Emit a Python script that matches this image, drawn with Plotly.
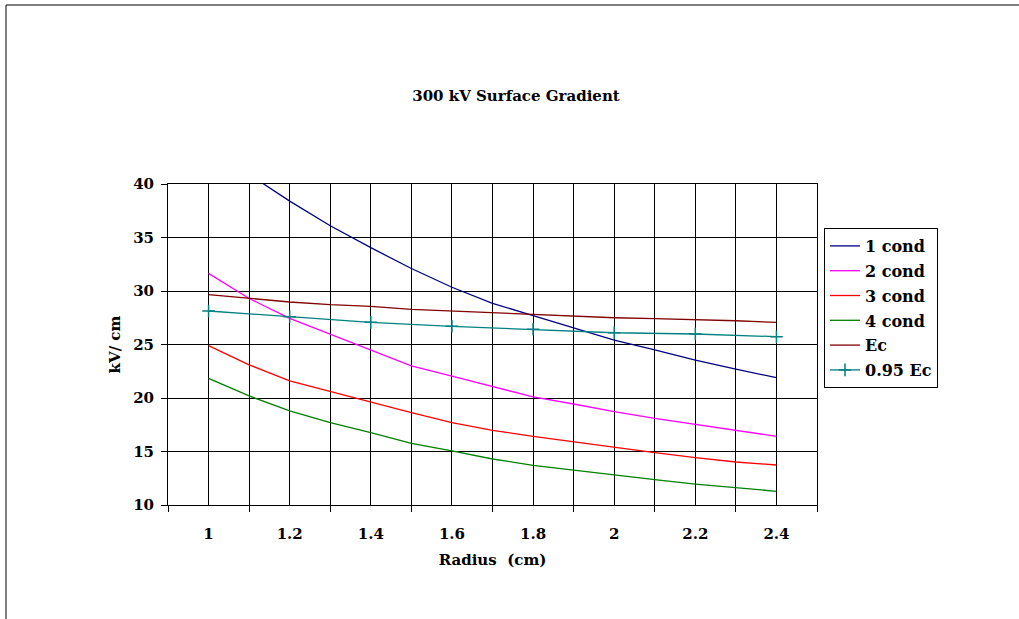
import plotly.graph_objects as go

radius = [1.0, 1.1, 1.2, 1.3, 1.4, 1.5, 1.6, 1.7, 1.8, 1.9, 2.0, 2.1, 2.2, 2.3, 2.4]
cond1 = [43.8, 40.9, 38.4, 36.1, 34.05, 32.1, 30.35, 28.85, 27.7, 26.55, 25.4, 24.5, 23.55, 22.7, 21.9]
cond2 = [31.65, 29.3, 27.45, 25.98, 24.5, 23.0, 22.05, 21.05, 20.1, 19.44, 18.72, 18.1, 17.54, 16.98, 16.42]
cond3 = [24.9, 23.1, 21.6, 20.6, 19.6, 18.63, 17.7, 16.98, 16.42, 15.89, 15.36, 14.89, 14.42, 14.02, 13.74]
cond4 = [21.84, 20.19, 18.79, 17.7, 16.76, 15.76, 15.05, 14.3, 13.71, 13.24, 12.78, 12.37, 11.96, 11.62, 11.28]
ec = [29.66, 29.3, 28.97, 28.72, 28.57, 28.29, 28.13, 27.94, 27.79, 27.66, 27.5, 27.41, 27.35, 27.22, 27.07]
radius_95 = [1.0, 1.2, 1.4, 1.6, 1.8, 2.0, 2.2, 2.4]
ec95 = [28.13, 27.6, 27.07, 26.7, 26.42, 26.1, 25.98, 25.73]

x_tickvals = [1.0, 1.2, 1.4, 1.6, 1.8, 2.0, 2.2, 2.4]
x_ticktext = ["1", "1.2", "1.4", "1.6", "1.8", "2", "2.2", "2.4"]

FONT = "DejaVu Serif"

series = [
    ("1 cond", radius, cond1, "#000080"),
    ("2 cond", radius, cond2, "#FF00FF"),
    ("3 cond", radius, cond3, "#FF0000"),
    ("4 cond", radius, cond4, "#008000"),
    ("Ec", radius, ec, "#800000"),
]

fig = go.Figure()
for i, (name, xs, ys, col) in enumerate(series):
    fig.add_trace(go.Scatter(x=xs, y=ys, name="<b>%s</b>" % name, mode="lines",
                             line=dict(color=col, width=1.3), legendgroup=str(i)))
fig.add_trace(go.Scatter(x=radius_95, y=ec95, name="<b>0.95 Ec</b>", mode="lines+markers",
                         line=dict(color="#008080", width=1.3),
                         marker=dict(symbol="cross-thin", size=9, line=dict(color="#008080", width=1.5)),
                         legendgroup="5"))

L, R, T, B = 168, 202, 184, 114
W, H = 1019, 619
pw, ph = W - L - R, H - T - B

def px(x):
    return (x - L) / pw

def py(y):
    return (H - B - y) / ph

# outer chart frame (top and left edges visible)
fig.add_shape(type="rect", xref="paper", yref="paper",
              x0=px(6), x1=px(1040), y0=py(5), y1=py(660),
              line=dict(color="black", width=1))

fig.update_layout(
    width=W, height=H, autosize=False,
    margin=dict(l=L, r=R, t=T, b=B, pad=0),
    paper_bgcolor="white", plot_bgcolor="white",
    font=dict(family=FONT, color="black", size=14),
    title=dict(text="<b>300 kV Surface Gradient</b>", x=516 / W, xanchor="center",
               y=1 - 96 / H, yanchor="middle", font=dict(size=15, family=FONT)),
    showlegend=True,
    legend=dict(x=px(824), y=py(228), xanchor="left", yanchor="top",
                bordercolor="black", borderwidth=1, bgcolor="white",
                font=dict(size=16, family=FONT), tracegroupgap=1,
                itemwidth=30),
    xaxis=dict(range=[0.9, 2.5], tickmode="array", tickvals=x_tickvals,
               ticktext=["<b>%s</b>" % t for t in x_ticktext],
               ticks="", showgrid=True, gridcolor="black", gridwidth=1,
               showline=True, linecolor="black", linewidth=1, mirror=True,
               zeroline=False, ticklabelstandoff=15, tickfont=dict(size=15),
               minor=dict(tick0=0.9, dtick=0.2, ticks="outside", ticklen=6,
                          tickcolor="black", showgrid=True, gridcolor="black", gridwidth=1),
               title=dict(text="<b>Radius  (cm)</b>", standoff=12, font=dict(size=15))),
    yaxis=dict(range=[10, 40], tickmode="linear", tick0=10, dtick=5,
               ticks="outside", ticklen=6, tickcolor="black",
               showgrid=True, gridcolor="black", gridwidth=1,
               showline=True, linecolor="black", linewidth=1, mirror=True,
               zeroline=False, tickprefix="<b>", ticksuffix="</b>",
               tickfont=dict(size=15), ticklabelstandoff=4,
               title=dict(text="<b>kV/ cm</b>", standoff=8, font=dict(size=15))),
)

fig.write_html("out.html")
